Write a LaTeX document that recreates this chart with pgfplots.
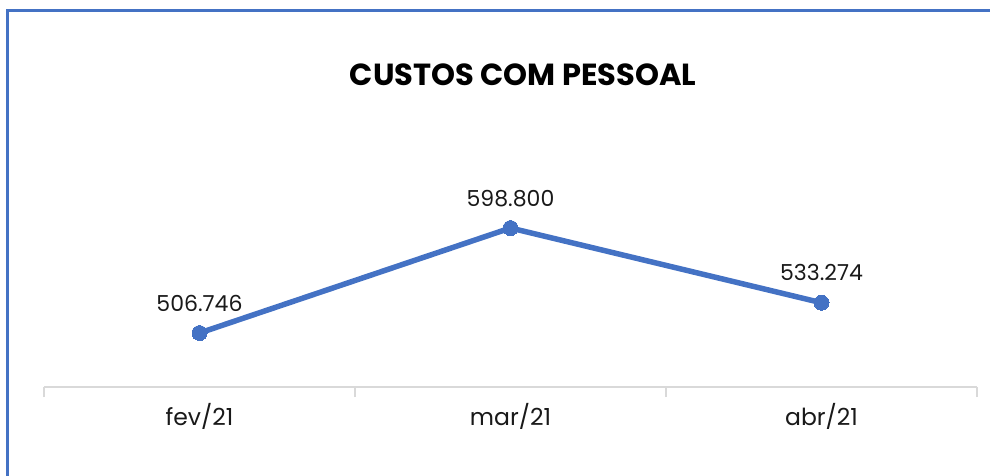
\documentclass[border=0pt]{standalone}
\usepackage{pgfplots}
\pgfplotsset{compat=1.18}
\usepackage{pgfplotstable}
\usepackage{fontspec}
\setmainfont{Poppins}
\definecolor{lineblue}{HTML}{4472C4}
\definecolor{axgray}{HTML}{D9D9D9}
\pgfplotstableread{
x y label
0 506746 506.746
1 598800 598.800
2 533274 533.274
}\datatable
\begin{document}
\begin{tikzpicture}
\path[use as bounding box] (0pt,0pt) rectangle (990pt,-476pt);
\begin{scope}
\clip (0pt,0pt) rectangle (990pt,-476pt);
\draw[lineblue, line width=3pt] (7.5pt,-480pt) -- (7.5pt,-11pt) -- (995pt,-11pt);
\end{scope}
\node[anchor=base, font=\fontsize{30.5}{33}\selectfont\bfseries] at (523pt,-86pt) {CUSTOS COM PESSOAL};
\begin{axis}[
  at={(44pt,-387pt)}, anchor=south west,
  scale only axis, width=933pt, height=237pt,
  xmin=-0.5, xmax=2.5,
  ymin=459400, ymax=667200,
  axis x line=bottom, axis y line=none,
  axis line style={-, axgray, line width=1.5pt},
  xtick={0,1,2}, xticklabels={fev/21, mar/21, abr/21},
  major tick length=0pt,
  xticklabel style={font=\fontsize{23.5}{26}\selectfont, text=black!90, yshift=-13pt},
  extra x ticks={-0.5,0.5,1.5,2.5},
  extra x tick labels={},
  extra x tick style={major tick length=10pt, tick align=outside, tick style={axgray, line width=1.5pt}},
  clip=false,
  nodes near coords,
  point meta=explicit symbolic,
  every node near coord/.append style={font=\fontsize{22}{24}\selectfont, text=black!90, anchor=base, yshift=22pt, inner sep=0pt},
]
\addplot[lineblue, line width=5.5pt, mark=*, mark size=7.5pt, mark options={fill=lineblue, draw=lineblue, line width=0pt}] table[x=x, y=y, meta=label] {\datatable};
\end{axis}
\end{tikzpicture}
\end{document}
